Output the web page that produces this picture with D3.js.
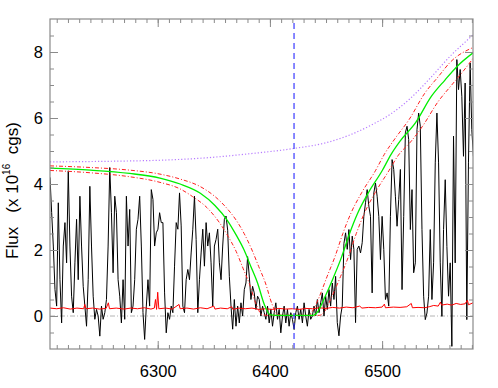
<!DOCTYPE html>
<html>
<head>
<meta charset="utf-8">
<script src="https://cdn.jsdelivr.net/npm/d3@7"></script>
<style>
  html, body { margin: 0; padding: 0; background: #fff; }
  svg text { font-family: "Liberation Sans", Arial, Helvetica, sans-serif; }
</style>
</head>
<body>
<div id="chart"></div>
<script>
// observed spectrum, uniform wavelength grid
const specStart = 6204;
const specStep = 1.48;
const specFlux = [
    4.2, 3.13, 2.12, 0.8, 0.3, 3.43, 1.1, -0.21, 2.12, 2.83, 1.61, 4.4, 2.12, 0.6, 0.1, 1.61, 2.93, 1.1, 3.63, 2.12,
    0.9, 0.3, -0.31, 1.1, 3.93, 2.12, 0.6, -0.1, 0.2, 0.0, -0.61, 0.3, -0.1, 0.1, 0.5, 2.12, 4.5, 3.13, 1.31, 3.63,
    3.13, 1.1, 0.6, -0.21, 1.1, -0.1, 3.63, 2.12, 3.23, 0.1, 0.3, 1.1, 2.63,
    2.93, 3.63, 2.12, 0.1, -0.71, 0.3, 1.1, 0.3, 3.83, 3.53, 2.12, 2.52, 2.63, 3.13, 2.83, 2.83, 0.7, -0.51, 0.1, -0.1,
    0.3, 0.1, 1.51, 2.83, 2.63, 3.73, 2.73, 0.3, 0.1, 1.1, 1.41, 1.1, 1.91, 2.63, 3.63, 2.32, 0.1, 1.1, 1.91, 2.63,
    1.51, 2.83, 2.12, 2.52, 1.61, 0.3, 2.12, 2.32, 2.63, 1.61, 1.1, 2.12, 2.93, 3.03,
    2.6, 1.2, 0.3, -0.4, 0.5, -0.31, 0.3, -0.21, 0.4, 0.0, 0.8, 1.0, 1.8, 1.21, 0.5, 0.9, 0.7, 0.2, 0.6, 0.5,
    0.0, 0.3, 0.1, -0.1, 0.3, -0.21, 0.2, -0.31, 0.1, 0.4, -0.1, 0.2, -0.51, 0.0, 0.3, -0.21, 0.2, -0.31, 0.1, -0.1,
    -0.41, 0.1, 0.3, -0.1, 0.2, -0.21, 0.4, 0.0, -0.31, 0.2, -0.1, 0.0, 0.3, 0.0, 0.5, 0.1, 0.4,
    0.7, 0.0, 0.6, 0.2, 0.8, 0.3, 1.0, 0.5, 1.2, -0.2, -0.6, 0.0, 0.3, 2.2, 2.52, 2.02, 2.62, 1.71, 2.42, 2.02,
    -0.2, 2.02, 2.12, 1.91, 2.22, 3.02, 3.43, 3.83, 3.33, 3.02, 0.7, 3.73, 4.03, 3.63, 3.02, 1.71, 3.02, 2.02, 0.5, 0.7,
    0.3, 3.02, 4.74, 4.44, 3.63, 2.72, 3.53, 4.44,
    0.8, 3.02, 5.55, 5.75, 5.35, 2.62, 3.83, 1.31, 1.61, 5.65, 6.15, 5.75, 2.62, 0.6, -0.11, 0.09, 0.6, 2.62, 0.5, 1.61,
    4.64, 6.15, 4.64, 1.61, -0.01, 2.62, 4.13, 2.11, 0.6, 1.61, -0.92, 5.45, 1.61, 7.77, 6.86, 7.47, 6.66, 4.84, 7.06, -0.11,
    4.64, 7.67, 5.65, 4.84, 6.66
];

// error spectrum [wavelength, flux]
const errorLine = [
    [6204, 0.24], [6210, 0.22], [6216, 0.25], [6222, 0.21], [6228, 0.24], [6234, 0.22], [6235, 0.35], [6236, 0.22],
    [6242, 0.24], [6248, 0.21], [6254, 0.23], [6256, 0.4], [6257, 0.22], [6263, 0.24], [6270, 0.21], [6276, 0.24],
    [6282, 0.22], [6288, 0.25], [6294, 0.21], [6297, 0.24], [6298, 0.5], [6299, 0.2], [6300, 0.72], [6301, 0.22],
    [6307, 0.24], [6313, 0.21], [6319, 0.35], [6320, 0.22], [6326, 0.24], [6332, 0.21], [6338, 0.25], [6344, 0.22],
    [6350, 0.3], [6351, 0.21], [6356, 0.24], [6362, 0.22], [6366, 0.28], [6367, 0.2], [6372, 0.24], [6378, 0.22],
    [6384, 0.24], [6390, 0.2], [6396, 0.22], [6402, 0.2], [6408, 0.23], [6414, 0.21], [6420, 0.22], [6426, 0.2],
    [6432, 0.23], [6438, 0.22], [6444, 0.25], [6450, 0.23], [6456, 0.26], [6462, 0.24], [6468, 0.27], [6474, 0.25],
    [6480, 0.3], [6482, 0.24], [6488, 0.26], [6494, 0.25], [6500, 0.27], [6502, 0.36], [6503, 0.25], [6510, 0.27],
    [6516, 0.26], [6522, 0.28], [6526, 0.38], [6527, 0.25], [6532, 0.26], [6538, 0.25], [6542, 0.28], [6546, 0.32],
    [6550, 0.3], [6552, 0.42], [6553, 0.33], [6558, 0.36], [6562, 0.33], [6566, 0.38], [6570, 0.35], [6574, 0.37],
    [6576, 0.48], [6577, 0.34], [6581, 0.4]
];

// model profile (green) and its bounds (red dash-dot)
const modelFit = [
    [6204, 4.48], [6240, 4.42], [6275, 4.32], [6302, 4.18], [6320, 4.0], [6338, 3.72], [6351, 3.35], [6362, 2.9],
    [6370, 2.45], [6377, 2.0], [6383, 1.5], [6389, 1.0], [6395, 0.35], [6400, 0.04], [6405, 0.02], [6438, 0.02],
    [6443, 0.15], [6448, 0.5], [6457, 1.2], [6464, 1.8], [6471, 2.5], [6478, 3.1], [6488, 3.75], [6500, 4.4],
    [6508, 4.9], [6516, 5.3], [6530, 5.87], [6544, 6.66], [6556, 7.15], [6567, 7.57], [6582, 8.0]
];
const modelUpper = [
    [6204, 4.55], [6240, 4.5], [6275, 4.42], [6302, 4.3], [6320, 4.15], [6338, 3.92], [6351, 3.62], [6362, 3.25],
    [6370, 2.9], [6377, 2.5], [6384, 2.0], [6390, 1.5], [6396, 1.0], [6402, 0.35], [6407, 0.04], [6412, 0.02],
    [6434, 0.02], [6438, 0.15], [6443, 0.5], [6451, 1.2], [6458, 1.8], [6465, 2.5], [6472, 3.1], [6482, 3.75],
    [6494, 4.4], [6502, 4.9], [6512, 5.4], [6524, 5.95], [6538, 6.75], [6550, 7.25], [6561, 7.7], [6582, 8.15]
];
const modelLower = [
    [6204, 4.41], [6240, 4.34], [6275, 4.22], [6302, 4.05], [6320, 3.85], [6331, 3.62], [6344, 3.28], [6355, 2.83],
    [6363, 2.4], [6370, 1.95], [6376, 1.45], [6382, 0.95], [6388, 0.33], [6393, 0.04], [6398, 0.02], [6444, 0.02],
    [6449, 0.15], [6454, 0.5], [6463, 1.2], [6470, 1.8], [6477, 2.5], [6484, 3.1], [6494, 3.75], [6506, 4.4],
    [6514, 4.85], [6526, 5.3], [6536, 5.75], [6550, 6.5], [6562, 7.0], [6573, 7.45], [6582, 7.85]
];
// continuum (purple dotted)
const continuum = [
    [6204, 4.67], [6260, 4.69], [6302, 4.72], [6338, 4.78], [6380, 4.91], [6422, 5.08], [6450, 5.25], [6470, 5.47],
    [6490, 5.78], [6508, 6.13], [6526, 6.62], [6544, 7.25], [6562, 7.92], [6574, 8.3], [6582, 8.55]
];

const restWave = 6421.5;
const xDomain = [6204, 6581];
const yDomain = [-1, 9];
const xTicks = [6300, 6400, 6500];
const yTicks = [0, 2, 4, 6, 8];

const width = 498;
const height = 388;
const margin = { left: 50, right: 25, top: 19, bottom: 39 };

const xScale = d3.scaleLinear()
    .domain(xDomain)
    .range([margin.left, width - margin.right]);

const yScale = d3.scaleLinear()
    .domain(yDomain)
    .range([height - margin.bottom, margin.top]);

const svg = d3.select('#chart')
    .append('svg')
    .attr('width', width)
    .attr('height', height);

svg.append('defs').append('clipPath')
    .attr('id', 'plot-clip')
    .append('rect')
    .attr('x', margin.left)
    .attr('y', margin.top)
    .attr('width', width - margin.left - margin.right)
    .attr('height', height - margin.top - margin.bottom);

const plot = svg.append('g').attr('clip-path', 'url(#plot-clip)');

const line = d3.line()
    .x((d) => xScale(d[0]))
    .y((d) => yScale(d[1]));

const smooth = d3.line()
    .x((d) => xScale(d[0]))
    .y((d) => yScale(d[1]))
    .curve(d3.curveMonotoneX);

// zero level
plot.append('path')
    .datum([[xDomain[0], 0], [xDomain[1], 0]])
    .attr('d', line)
    .attr('fill', 'none')
    .attr('stroke', '#b4b4b4')
    .attr('stroke-dasharray', '5,2,1,2');

// spectrum
const spectrum = specFlux.map((v, i) => [specStart + i * specStep, v]);
plot.append('path')
    .datum(spectrum)
    .attr('d', line)
    .attr('fill', 'none')
    .attr('stroke', '#000')
    .attr('stroke-width', 1);

// error
plot.append('path')
    .datum(errorLine)
    .attr('d', line)
    .attr('fill', 'none')
    .attr('stroke', '#ff0000')
    .attr('stroke-width', 1);

// continuum
plot.append('path')
    .datum(continuum)
    .attr('d', smooth)
    .attr('fill', 'none')
    .attr('stroke', '#b77cff')
    .attr('stroke-width', 1.2)
    .attr('stroke-dasharray', '1.2,2');

// bounds
[modelUpper, modelLower].forEach((d) => {
    plot.append('path')
        .datum(d)
        .attr('d', smooth)
        .attr('fill', 'none')
        .attr('stroke', '#ff2020')
        .attr('stroke-width', 1)
        .attr('stroke-dasharray', '4,2,1,2');
});

// model
plot.append('path')
    .datum(modelFit)
    .attr('d', smooth)
    .attr('fill', 'none')
    .attr('stroke', '#00ee00')
    .attr('stroke-width', 1.3);

// rest wavelength marker
plot.append('path')
    .datum([[restWave, yDomain[0]], [restWave, yDomain[1]]])
    .attr('d', line)
    .attr('fill', 'none')
    .attr('stroke', '#3a3aff')
    .attr('stroke-width', 1.2)
    .attr('stroke-dasharray', '6,4');

// axes
const axisColor = '#8a8a8a';
const minorX = d3.range(6210, 6581, 10);
const minorY = d3.range(-0.5, 9, 0.5);
const plotW = width - margin.left - margin.right;
const plotH = height - margin.top - margin.bottom;

const axes = [
    { gen: d3.axisBottom(xScale), t: `translate(0,${height - margin.bottom})`, major: xTicks, minor: minorX, labels: true, pad: 16 },
    { gen: d3.axisTop(xScale), t: `translate(0,${margin.top})`, major: xTicks, minor: minorX, labels: false, pad: 7 },
    { gen: d3.axisLeft(yScale), t: `translate(${margin.left},0)`, major: yTicks, minor: minorY, labels: true, pad: 7 },
    { gen: d3.axisRight(yScale), t: `translate(${width - margin.right},0)`, major: yTicks, minor: minorY, labels: false, pad: 7 }
];

axes.forEach((a) => {
    const g = svg.append('g')
        .attr('transform', a.t)
        .call(a.gen.tickValues(a.minor).tickSize(-4).tickFormat(''));
    g.select('.domain').remove();
    g.selectAll('line').attr('stroke', axisColor);

    const gm = svg.append('g')
        .attr('transform', a.t)
        .call(a.gen.tickValues(a.major).tickSize(-8)
            .tickPadding(a.pad)
            .tickFormat(a.labels ? d3.format('d') : ''));
    gm.select('.domain').remove();
    gm.selectAll('line').attr('stroke', axisColor);
    gm.selectAll('text')
        .attr('fill', '#000')
        .style('font-size', '16.5px');
});

svg.append('rect')
    .attr('x', margin.left)
    .attr('y', margin.top)
    .attr('width', plotW)
    .attr('height', plotH)
    .attr('fill', 'none')
    .attr('stroke', axisColor)
    .attr('stroke-width', 1.2);

// y label
const yLabel = svg.append('text')
    .attr('transform', `translate(18,${margin.top + plotH * 0.52}) rotate(-90)`)
    .attr('text-anchor', 'middle')
    .style('font-size', '17px')
    .attr('fill', '#000');
yLabel.append('tspan').text('Flux\u00a0\u00a0\u00a0(x 10');
yLabel.append('tspan').text('16').attr('dy', -8).style('font-size', '10px');
yLabel.append('tspan').text('\u00a0\u00a0cgs)').attr('dy', 8);
</script>
</body>
</html>
